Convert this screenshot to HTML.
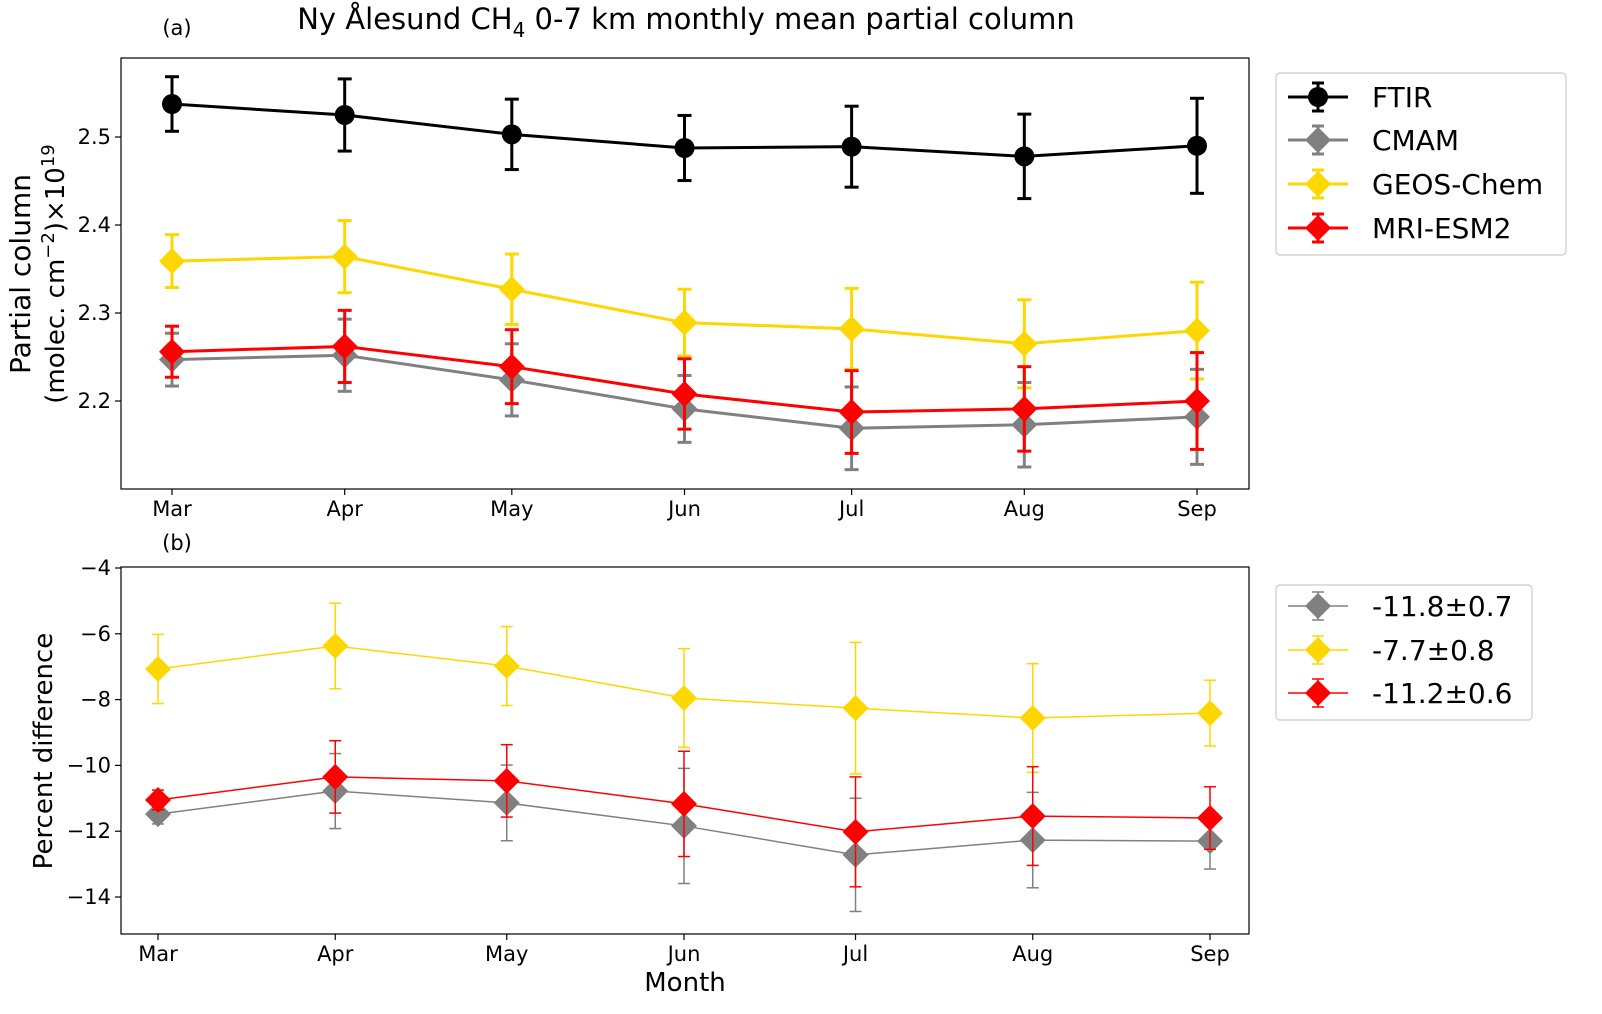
<!DOCTYPE html>
<html><head><meta charset="utf-8">
<style>
html,body{margin:0;padding:0;background:#fff;}
svg{display:block;font-family:"DejaVu Sans","Liberation Sans",sans-serif;}
</style></head>
<body>
<svg id="fig" width="1602" height="1014" viewBox="0 0 1602 1014" xmlns="http://www.w3.org/2000/svg">
<rect width="1602" height="1014" fill="#fff"/>
<text x="686" y="29" font-size="29" text-anchor="middle">Ny Ålesund CH<tspan font-size="20" dy="8">4</tspan><tspan dy="-8"> 0-7 km monthly mean partial column</tspan></text>
<text x="177" y="35" font-size="21" text-anchor="middle">(a)</text>
<text x="177" y="550" font-size="21" text-anchor="middle">(b)</text>
<g transform="translate(36,274) rotate(-90)">
<text x="0" y="-6" font-size="28" text-anchor="middle">Partial column</text>
<text x="0" y="28" font-size="26" text-anchor="middle">(molec. cm<tspan font-size="18" dy="-10">−2</tspan><tspan dy="10">)×10</tspan><tspan font-size="18" dy="-10">19</tspan></text>
</g>
<text transform="translate(52,751) rotate(-90)" font-size="26" text-anchor="middle">Percent difference</text>
<text x="685" y="991" font-size="26" text-anchor="middle">Month</text>
<g id="top"></g>
<g id="bot"></g>
</svg>
<script>
const months = ["Mar","Apr","May","Jun","Jul","Aug","Sep"];
const days = [0,31,61,92,122,153,184];
const topTicks = [2.2,2.3,2.4,2.5];
const ftir = [2.5375,2.525,2.503,2.4875,2.489,2.478,2.490];
const ftirErr = [0.031,0.041,0.040,0.037,0.046,0.048,0.054];
const cmam = [2.247,2.252,2.224,2.191,2.169,2.173,2.182];
const cmamErr = [0.030,0.041,0.041,0.038,0.047,0.048,0.054];
const geos = [2.359,2.364,2.327,2.289,2.282,2.265,2.280];
const geosErr = [0.030,0.041,0.040,0.038,0.046,0.050,0.055];
const mri = [2.256,2.262,2.239,2.208,2.1875,2.191,2.200];
const mriErr = [0.029,0.041,0.042,0.040,0.047,0.048,0.055];
const botTicks = [-4,-6,-8,-10,-12,-14];
const dCmam = [-11.48,-10.78,-11.14,-11.84,-12.72,-12.27,-12.30];
const dCmamErr = [0.3,1.14,1.15,1.75,1.72,1.45,0.85];
const dGeos = [-7.07,-6.37,-6.98,-7.95,-8.26,-8.56,-8.41];
const dGeosErr = [1.05,1.3,1.2,1.5,2.0,1.65,1.0];
const dMri = [-11.05,-10.35,-10.47,-11.17,-12.02,-11.54,-11.60];
const dMriErr = [0.3,1.1,1.1,1.6,1.67,1.5,0.95];
const botLegend = ["-11.8±0.7","-7.7±0.8","-11.2±0.6"];

const NS="http://www.w3.org/2000/svg";
function mk(parent,tag,attrs){const e=document.createElementNS(NS,tag);for(const k in attrs)e.setAttribute(k,attrs[k]);parent.appendChild(e);return e;}
const L=121,R=1249;
const xT=d=>172+(d)*(1197-172)/184;
const yT=v=>137-(v-2.5)*880;
const xB=d=>158+d*(1210-158)/184;
const yB=v=>568-(v+4)*32.9;

function marker(g,type,x,y,s,color){
  if(type==="o") return mk(g,"circle",{cx:x,cy:y,r:s,fill:color});
  return mk(g,"polygon",{points:`${x},${y-s} ${x+s},${y} ${x},${y+s} ${x-s},${y}`,fill:color});
}
function series(g,name,xs,vals,errs,xf,yf,color,type,ms,lw,cap){
  const sg=mk(g,"g",{});
  
  
  let pts=vals.map((v,i)=>xf(xs[i])+","+yf(v)).join(" ");
  mk(sg,"polyline",{points:pts,fill:"none",stroke:color,"stroke-width":lw});
  vals.forEach((v,i)=>{
    const x=xf(xs[i]),y1=yf(v+errs[i]),y2=yf(v-errs[i]);
    const eb=mk(sg,"g",{stroke:color,"stroke-width":lw});
    
    
    mk(eb,"line",{x1:x,x2:x,y1:y1,y2:y2});
    mk(eb,"line",{x1:x-cap,x2:x+cap,y1:y1,y2:y1});
    mk(eb,"line",{x1:x-cap,x2:x+cap,y1:y2,y2:y2});
  });
  vals.forEach((v,i)=>{
    const m=marker(sg,type,xf(xs[i]),yf(v),ms,color);
    
    
  });
}
function axes(g,top,bottom,xf,yf,ticks,name){
  const ax=mk(g,"g",{});
  
  
  months.forEach((m,i)=>{
    const x=xf(days[i]);
    mk(ax,"line",{x1:x,x2:x,y1:bottom,y2:bottom+6,stroke:"#000","stroke-width":1.2});
    const t=mk(ax,"text",{x:x,y:bottom+27,"font-size":21,"text-anchor":"middle"});
    t.textContent=m;
    
    
  });
  ticks.forEach(v=>{
    const y=yf(v);
    mk(ax,"line",{x1:L-6,x2:L,y1:y,y2:y,stroke:"#000","stroke-width":1.2});
    const t=mk(ax,"text",{x:L-10,y:y+7,"font-size":21,"text-anchor":"end"});
    t.textContent=(v<0?"−"+Math.abs(v):(Number.isInteger(v)?v:v.toFixed(1)));
    
    
  });
}
function frame(g,top,bottom){mk(g,"rect",{x:L,y:top,width:R-L,height:bottom-top,fill:"none",stroke:"#000","stroke-width":1.2});}
function legend(g,x,y,w,h,items,name,lw,fs){
  const lg=mk(g,"g",{});
  
  
  mk(lg,"rect",{x:x,y:y,width:w,height:h,rx:4,fill:"#fff",stroke:"#ccc","stroke-width":1.2});
  items.forEach(it=>{
    const eg=mk(lg,"g",{});
    
    
    mk(eg,"line",{x1:x+12,x2:x+72,y1:it.y,y2:it.y,stroke:it.c,"stroke-width":lw});
    mk(eg,"line",{x1:x+42,x2:x+42,y1:it.y-14,y2:it.y+14,stroke:it.c,"stroke-width":lw});
    mk(eg,"line",{x1:x+36,x2:x+48,y1:it.y-14,y2:it.y-14,stroke:it.c,"stroke-width":lw});
    mk(eg,"line",{x1:x+36,x2:x+48,y1:it.y+14,y2:it.y+14,stroke:it.c,"stroke-width":lw});
    marker(eg,it.t,x+42,it.y,it.t==="o"?10:13,it.c);
    const t=mk(eg,"text",{x:x+96,y:it.y+10,"font-size":fs});
    t.textContent=it.label;
  });
}
const gt=document.getElementById("top");
axes(gt,58,489,xT,yT,topTicks,"top");
series(gt,"ftir",days,ftir,ftirErr,xT,yT,"#000","o",10,3,7);
series(gt,"cmam",days,cmam,cmamErr,xT,yT,"#808080","d",13,3,7);
series(gt,"geos-chem",days,geos,geosErr,xT,yT,"#ffd700","d",13,3,7);
series(gt,"mri-esm2",days,mri,mriErr,xT,yT,"#ff0000","d",13,3,7);
frame(gt,58,489);
legend(gt,1276,73,290,182,[{label:"FTIR",c:"#000",t:"o",y:97},{label:"CMAM",c:"#808080",t:"d",y:140},{label:"GEOS-Chem",c:"#ffd700",t:"d",y:184},{label:"MRI-ESM2",c:"#ff0000",t:"d",y:228}],"top-legend",3,28);

const gb=document.getElementById("bot");
axes(gb,567,934,xB,yB,botTicks,"bottom");
series(gb,"cmam-diff",days,dCmam,dCmamErr,xB,yB,"#808080","d",13,1.5,6);
series(gb,"geos-chem-diff",days,dGeos,dGeosErr,xB,yB,"#ffd700","d",13,1.5,6);
series(gb,"mri-esm2-diff",days,dMri,dMriErr,xB,yB,"#ff0000","d",13,1.5,6);
frame(gb,567,934);
legend(gb,1276,585,256,135,[{label:botLegend[0],c:"#808080",t:"d",y:606},{label:botLegend[1],c:"#ffd700",t:"d",y:650},{label:botLegend[2],c:"#ff0000",t:"d",y:693}],"bottom-legend",1.5,28);
</script>
</body></html>
